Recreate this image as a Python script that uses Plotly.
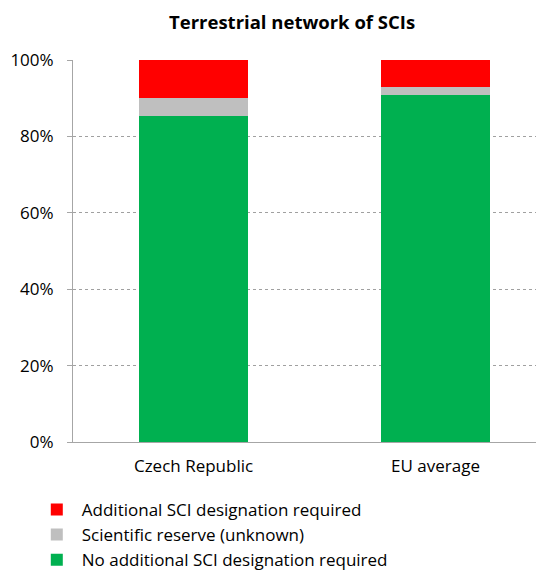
import plotly.graph_objects as go

categories = ["Czech Republic", "EU average"]
no_additional = [85.3, 90.8]
scientific_reserve = [4.7, 2.1]
additional = [10.0, 7.1]

series_names = ["No additional SCI designation required",
                "Scientific reserve (unknown)",
                "Additional SCI designation required"]
series_values = [no_additional, scientific_reserve, additional]
series_colors = ["#00B050", "#BFBFBF", "#FF0000"]
legend_ranks = [3, 2, 1]

font_family = "'Open Sans', sans-serif"

# page body has an 8px margin, so the figure is sized to the visible area
W, H = 536, 562
plot_left, plot_top, plot_bottom = 65, 52, 434

fig = go.Figure()
for i, (name, vals, col, rk) in enumerate(zip(series_names, series_values, series_colors, legend_ranks)):
    fig.add_trace(go.Bar(x=categories, y=vals, name=name, legendgroup=f"g{i}",
                         legendrank=rk,
                         marker=dict(color=col, line=dict(width=0)),
                         width=0.45))

paper_h = H - plot_top
fig.update_layout(
    barmode="stack",
    width=W, height=H,
    margin=dict(l=0, r=0, t=plot_top, b=0, autoexpand=False),
    paper_bgcolor="white", plot_bgcolor="white",
    font=dict(family=font_family, size=17, color="#000000"),
    title=dict(text="<b>Terrestrial network of SCIs</b>", xref="container", x=0.530,
               xanchor="center", yref="container", y=0.975, yanchor="middle",
               font=dict(size=18.5, family=font_family)),
    showlegend=True,
    legend=dict(traceorder="grouped", orientation="v",
                xref="container", yref="container",
                x=0.0444, y=0.139, xanchor="left", yanchor="top",
                font=dict(size=17, family=font_family),
                itemwidth=40, tracegroupgap=0, bgcolor="rgba(0,0,0,0)"),
    xaxis=dict(domain=[plot_left / W, 1], range=[-0.498, 1.448], showgrid=False,
               showline=True, linecolor="#A6A6A6", linewidth=1,
               ticks="outside", ticklen=9, tickcolor="rgba(0,0,0,0)",
               tickfont=dict(size=17), fixedrange=True, automargin=False),
    yaxis=dict(domain=[(H - plot_bottom) / paper_h, 1], range=[0, 100],
               tickvals=[0, 20, 40, 60, 80, 100],
               ticktext=["0%", "20%", "40%", "60%", "80%", "100%"],
               showgrid=True, gridcolor="#A0A0A0", griddash="dot", gridwidth=1,
               showline=True, linecolor="#A6A6A6", linewidth=1,
               ticks="outside", ticklen=5, tickcolor="#A6A6A6",
               ticklabelstandoff=10,
               tickfont=dict(size=17), zeroline=False, automargin=False),
    bargap=0,
)

fig.write_html("out.html")
